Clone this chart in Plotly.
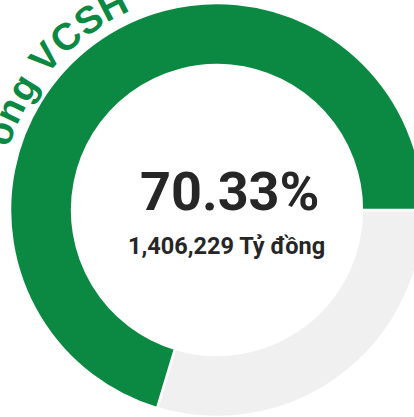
import math
import plotly.graph_objects as go

# ---- data ----
slice_labels = ["Còn lại", "VCSH"]
slice_values = [29.67, 70.33]
center_pct_text = "70.33%"
center_value_text = "1,406,229 Tỷ đồng"
arc_title_text = "ong VCSH"

# ---- styles ----
GREEN = "#0b8943"
GRAY = "#f0f0f0"
DARK = "#262626"

W, H = 450, 440          # figure size (page is cropped to 414x417)
CX, CY, R = 217, 210, 207  # ring centre / outer radius in page pixels


def px(x):
    return x / W


def py(y):
    return 1 - y / H


fig = go.Figure(go.Pie(
    labels=slice_labels,
    values=slice_values,
    hole=0.70,
    sort=False,
    direction="clockwise",
    rotation=90,
    textinfo="none",
    hoverinfo="none",
    marker=dict(colors=[GRAY, GREEN], line=dict(color="white", width=2.5)),
    domain=dict(x=[px(CX - R), px(CX + R)], y=[py(CY + R), py(CY - R)]),
    showlegend=False,
))

annotations = [
    dict(text=f"<b>{center_pct_text}</b>", x=px(230), y=py(191), xref="paper", yref="paper",
         showarrow=False, xanchor="center", yanchor="middle",
         font=dict(family="Roboto", size=54, color=DARK)),
    dict(text=f"<b>{center_value_text}</b>", x=px(226.5), y=py(246), xref="paper", yref="paper",
         showarrow=False, xanchor="center", yanchor="middle",
         font=dict(family="Roboto", size=23.5, color=DARK)),
]

# curved title along the outside of the ring
char_w = {"o": .611, "n": .611, "g": .611, " ": .278, "V": .667, "C": .722, "S": .667, "H": .722}
FS = 38
LS = 2
RC = 230
ang = 160.5
prev = None
for ch in arc_title_text:
    if prev is not None:
        adv = (char_w.get(prev, .6) + char_w.get(ch, .6)) / 2 * FS + LS
        ang -= adv / RC * 180 / math.pi
    prev = ch
    if ch == " ":
        continue
    t = math.radians(ang)
    x = CX + RC * math.cos(t)
    y = CY - RC * math.sin(t)
    annotations.append(dict(
        text=f"<b>{ch}</b>", x=px(x), y=py(y), xref="paper", yref="paper",
        showarrow=False, xanchor="center", yanchor="middle", textangle=90 - ang,
        font=dict(family="Liberation Sans", size=FS, color=GREEN)))

fig.update_layout(
    width=W, height=H,
    margin=dict(l=0, r=0, t=0, b=0),
    paper_bgcolor="white",
    plot_bgcolor="white",
    annotations=annotations,
)

fig.write_html(
    "out.html",
    config={"displayModeBar": False},
    post_script="document.body.style.margin='0';document.body.style.overflow='hidden';",
)
